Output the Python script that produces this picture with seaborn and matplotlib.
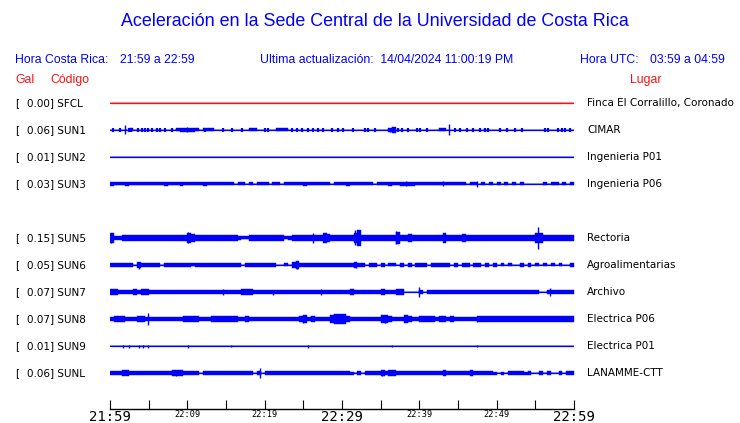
import numpy as np
import matplotlib
matplotlib.use("Agg")
import matplotlib.pyplot as plt
import seaborn as sns

# station table
codes = ["SFCL", "SUN1", "SUN2", "SUN3", "SUN5", "SUN6", "SUN7", "SUN8", "SUN9", "SUNL"]
gal = [0.00, 0.06, 0.01, 0.03, 0.15, 0.05, 0.07, 0.07, 0.01, 0.06]
lugar = ["Finca El Corralillo, Coronado", "CIMAR", "Ingenieria P01", "Ingenieria P06",
         "Rectoria", "Agroalimentarias", "Archivo", "Electrica P06", "Electrica P01",
         "LANAMME-CTT"]
rows = [0, 1, 2, 3, 5, 6, 7, 8, 9, 10]  # SUN4 slot is empty

# envelope level per 30 s bin (120 bins = 60 min), digits 0-9
env_sfcl = "0" * 120
env_sun1 = ("0000010000 0000000122 2210111000 0000001100 0001110000 0000000000 "
            "0000000000 0023000000 0000011000 0000000000 0000000000 0000000000")
env_sun2 = "0" * 120
env_sun3 = ("2111211111 1111211121 1111211111 1101101011 1011011111 2111111011 "
            "1211111101 1121122221 1111111111 1101101010 1010101000 0010110101")
env_sun5 = ("6223343333 3333343333 6533343333 3332113333 3343312333 3343365333 "
            "3336933433 3333733533 3343336333 3533433333 3333333433 6633333333")
env_sun6 = ("2222220422 2220222222 2122222222 2222022222 2220010352 2222222222 "
            "2223220220 2011020202 2202222202 0220220202 0101002020 1010101002")
env_sun7 = ("3322223233 2222222222 2222222222 2222333222 2222222222 2222222222 "
            "2232222222 3222330000 2022222222 2222222222 2222222222 2002222222")
env_sun8 = ("2333222332 2222222223 3332223434 4342232222 2222222224 5232222566 "
            "6322222222 5532225422 3333233232 2222233333 3333333333 3333333333")
env_sun9 = "0" * 120
env_sunl = ("2223322222 2222223332 2220222222 2222222020 2222222222 2222222222 "
            "2210202222 3233222222 2222223222 2223222221 0102222120 0202002022")
envelopes = [env_sfcl, env_sun1, env_sun2, env_sun3, env_sun5,
             env_sun6, env_sun7, env_sun8, env_sun9, env_sunl]

# short blips on SUN1 (minutes after 21:59)
blips_sun1 = [0.43, 1.29, 2.46, 2.72, 3.66, 4.09, 4.53, 4.96, 5.39, 6.03, 6.47, 7.11,
              7.97, 12.28, 14.66, 15.73, 17.03, 20.04, 20.47, 23.49, 24.14, 24.78,
              25.65, 26.29, 26.94, 27.59, 28.66, 29.53, 30.17, 31.47, 32.97, 33.41,
              34.27, 37.28, 37.72, 38.58, 39.66, 40.09, 40.95, 44.61, 45.26, 46.12,
              46.98, 47.84, 48.49, 48.92, 50.43, 51.29, 52.37, 53.23, 56.25, 56.68,
              57.97, 58.41, 58.84, 59.48]

# single spikes: (minute after 21:59, half height in px)
spikes = {
    "SUN1": [(1.95, 4.5), (10.0, 2.5), (43.8, 5.5), (36.2, 2.0)],
    "SUN3": [(38.3, 2.5), (43.0, 2.5), (47.5, 3.0)],
    "SUN5": [(0.1, 5.3), (10.1, 5.5), (26.3, 5.0), (31.7, 7.5), (37.0, 6.5), (55.4, 11.0)],
    "SUN6": [(3.75, 3.5), (24.2, 4.0), (31.8, 2.5)],
    "SUN7": [(14.6, 3.0), (21.1, 2.5), (27.3, 3.0), (40.0, 5.0), (56.9, 4.0)],
    "SUN8": [(4.95, 6.3), (25.0, 4.0), (29.5, 4.5), (35.5, 4.0), (47.5, 2.5)],
    "SUN9": [(1.7, 1.5), (2.5, 1.5), (3.8, 1.5), (4.3, 1.5), (4.95, 1.5),
             (10.15, 1.5), (15.65, 1.2), (25.65, 1.5), (36.5, 1.2), (47.5, 1.2)],
    "SUNL": [(8.5, 2.5), (19.45, 5.0), (35.15, 3.2)],
}

tick_minutes = list(range(0, 61, 5))
tick_labels = ["21:59", "", "22:09", "", "22:19", "", "22:29", "", "22:39", "", "22:49", "", "22:59"]

BLUE = "#0000ff"
RED = "#ff1010"
W, H = 740, 423
PX = 1 / 27.0       # one pixel in row units
# half height in px for each envelope level
LEVEL_PX = np.array([0, 1.5, 2.1, 2.7, 3.4, 4.2, 5.0, 6.0, 7.0, 8.0])

sns.set_theme(style="white")
plt.rcParams["font.family"] = ["DejaVu Sans"]

fig = plt.figure(figsize=(W / 100, H / 100), dpi=100)
ax = fig.add_axes([110 / W, (H - 409) / H, 464 / W, (409 - 90) / H])

edges = np.linspace(0, 60, 121)
for code, row, env in zip(codes, rows, envelopes):
    col = RED if code == "SFCL" else BLUE
    lev = np.array([int(c) for c in env.replace(" ", "")])
    half = LEVEL_PX[np.append(lev, lev[-1])] * PX
    ax.fill_between(edges, row - half, row + half, step="post", color=col, lw=0.3,
                    edgecolor=col)
    ax.plot([0, 60], [row, row], color=col, lw=0.9)
    for m, h in spikes.get(code, []):
        ax.vlines(m, row - h * PX, row + h * PX, color=col, lw=1.0)

row_sun1 = rows[codes.index("SUN1")]
ax.vlines(blips_sun1, row_sun1 - 2.0 * PX, row_sun1 + 2.0 * PX, color=BLUE, lw=1.6)

ax.set_xlim(0, 60)
ax.set_ylim((409 - 103) / 27, (90 - 103) / 27)
ax.set_yticks([])
sns.despine(ax=ax, left=True, top=True, right=True)
ax.spines["bottom"].set_color("black")
ax.spines["bottom"].set_linewidth(1.0)
ax.set_xticks(tick_minutes)
ax.set_xticklabels(tick_labels, family="DejaVu Sans Mono")
ax.tick_params(axis="x", direction="in", length=6.5, width=0.8, color="black", pad=1,
               bottom=True)
for lab in ax.get_xticklabels():
    big = lab.get_text() in ("21:59", "22:29", "22:59")
    lab.set_fontsize(10 if big else 6.2)
    lab.set_color("black")


def ftext(x, y, s, **kw):
    fig.text(x / W, 1 - y / H, s, va="center", **kw)


ftext(375, 22, "Aceleración en la Sede Central de la Universidad de Costa Rica",
      ha="center", fontsize=12.9, color=BLUE, family="Liberation Sans")
hdr = dict(fontsize=8.8, color=BLUE, family="Liberation Sans")
ftext(15, 60, "Hora Costa Rica:", **hdr)
ftext(120, 60, "21:59 a 22:59", **hdr)
ftext(260, 60, "Ultima actualización:  14/04/2024 11:00:19 PM", **hdr)
ftext(580, 60, "Hora UTC:", **hdr)
ftext(650, 60, "03:59 a 04:59", **hdr)
red = dict(fontsize=8.8, color=RED, family="Liberation Sans")
ftext(15, 80, "Gal", **red)
ftext(50, 80, "Código", **red)
ftext(630, 80, "Lugar", **red)

for code, row, g, place in zip(codes, rows, gal, lugar):
    y = 103 + 27 * row
    ftext(15, y, "[", fontsize=7.5, color="black")
    ftext(27, y, f"{g:.2f}] {code}", fontsize=7.5, color="black")
    ftext(587, y, place, fontsize=7.5, color="black")

fig.savefig("out.png", dpi=100)
